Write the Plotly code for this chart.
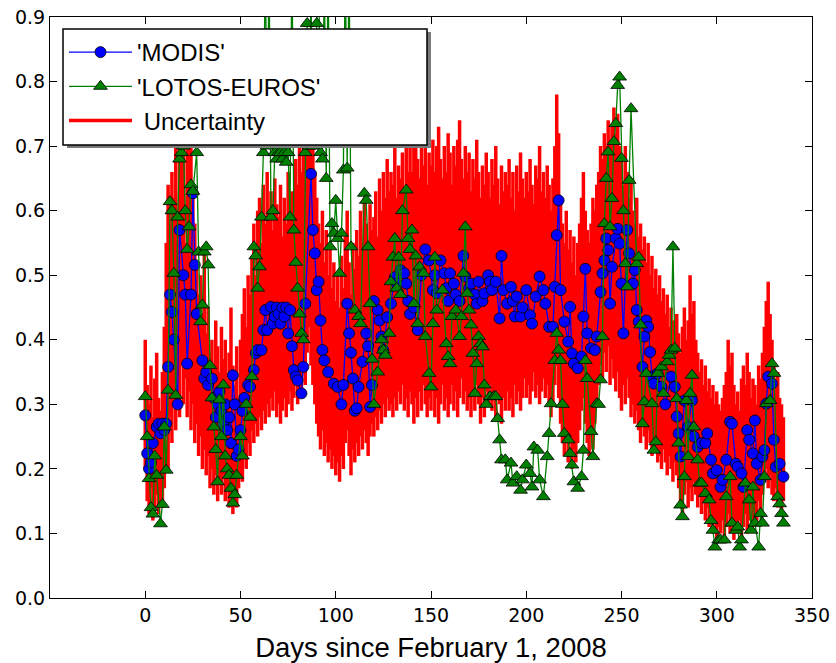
import plotly.graph_objects as go

# ---------------- data ----------------
modis_day = [0,1,2,3,4,6,7,8,9,10,11,12,13,14,15,17,18,20,21,22,24,25,26,27,30,31,32,33,35,36,37,38,39,40,41,42,43,44,45,46,47,48,49,50,
             51,52,54,55,57,58,59,61,62,63,64,66,67,68,69,70,71,72,73,74,75,76,77,78,79,80,82,83,84,
             87,88,89,90,91,92,93,94,96,99,101,103,104,106,107,108,109,110,111,112,114,116,117,118,119,120,122,123,124,125,127,129,
             131,132,134,136,137,138,139,141,143,145,147,149,151,152,153,155,157,158,159,160,162,163,165,167,168,170,171,173,174,175,
             177,178,180,181,182,184,186,187,188,190,192,193,194,195,197,198,200,202,203,205,207,209,210,212,214,215,216,217,218,
             220,222,223,224,225,227,229,230,231,232,234,236,237,239,240,241,242,243,244,245,247,248,249,250,251,253,254,256,257,
             258,259,261,262,263,264,265,266,267,269,271,273,276,278,279,280,281,283,285,287,288,290,292,294,295,297,298,300,302,
             303,305,307,308,310,311,313,314,316,317,319,320,321,323,324,325,326,327,329,330,331,333,335]
modis_val = [0.283,0.224,0.20,0.21,0.24,0.265,0.27,0.255,0.27,0.26,0.27,0.358,0.47,0.443,0.40,0.30,0.57,0.50,0.47,0.363,0.47,0.627,0.516,0.44,0.368,0.34,0.35,0.33,0.34,0.31,0.28,0.30,0.32,0.29,0.27,0.30,0.26,0.28,0.24,0.345,0.30,0.22,0.23,0.26,
             0.29,0.31,0.33,0.327,0.353,0.379,0.384,0.384,0.415,0.446,0.415,0.451,0.425,0.436,0.45,0.44,0.425,0.45,0.436,0.45,0.41,0.446,0.39,0.353,0.343,0.337,0.317,0.358,0.456,
             0.657,0.57,0.534,0.477,0.49,0.43,0.384,0.368,0.35,0.332,0.327,0.30,0.33,0.456,0.41,0.38,0.34,0.29,0.294,0.327,0.366,0.41,0.39,0.296,0.33,0.46,0.446,0.43,0.405,0.384,0.435,0.456,
             0.497,0.487,0.508,0.503,0.487,0.46,0.44,0.45,0.415,0.50,0.54,0.523,0.477,0.50,0.472,0.523,0.503,0.48,0.46,0.503,0.487,0.47,0.46,0.53,0.498,0.48,0.487,0.47,0.456,0.49,
             0.46,0.472,0.50,0.49,0.477,0.49,0.433,0.53,0.477,0.456,0.482,0.46,0.436,0.467,0.436,0.45,0.477,0.438,0.425,0.467,0.498,0.477,0.456,0.42,0.42,0.482,0.562,0.616,0.477,
             0.428,0.397,0.451,0.379,0.363,0.356,0.374,0.436,0.51,0.41,0.387,0.384,0.405,0.474,0.503,0.523,0.557,0.539,0.456,0.513,0.557,0.572,0.549,0.487,0.41,0.57,0.534,0.487,0.508,
             0.446,0.428,0.358,0.405,0.43,0.42,0.381,0.343,0.332,0.348,0.327,0.30,0.343,0.327,0.281,0.255,0.219,0.306,0.265,0.306,0.25,0.234,0.24,0.24,0.255,0.214,0.193,0.198,0.172,
             0.183,0.214,0.273,0.27,0.208,0.203,0.193,0.172,0.26,0.245,0.224,0.275,0.208,0.183,0.219,0.229,0.301,0.343,0.332,0.245,0.203,0.208,0.188]

lotos_day = [0,1,2,3,4,5,6,8,9,10,11,12,13,14,15,16,17,18,19,20,21,22,23,24,25,27,28,29,30,31,32,33,34,35,36,37,38,39,40,41,42,43,44,45,46,47,48,50,51,53,55,56,57,58,59,60,61,
             62,63,64,65,66,67,68,69,70,71,72,73,74,75,76,77,78,79,80,81,82,83,84,85,86,87,88,89,90,91,92,93,94,95,96,97,98,99,100,101,102,103,104,105,106,107,108,
             110,112,113,115,116,117,118,119,120,122,124,125,126,128,129,130,131,132,133,134,135,137,138,139,140,141,142,143,144,146,147,149,150,151,152,153,156,158,159,160,
             161,163,165,166,167,168,169,170,171,172,173,174,175,176,177,178,179,181,183,184,185,186,187,189,190,192,193,195,197,198,200,202,203,204,206,207,209,211,212,213,
             215,216,217,218,219,220,222,223,224,225,227,229,230,231,232,234,235,237,238,239,240,241,242,243,244,245,246,247,248,249,250,251,252,253,254,255,258,259,260,261,
             262,263,266,267,268,269,271,272,274,275,276,277,278,279,280,281,282,283,284,285,286,287,288,290,291,292,294,296,297,298,299,301,302,304,305,307,308,310,311,312,
             313,315,317,318,319,320,322,323,324,325,326,328,329,330,332,333,334,335]
lotos_val = [0.312,0.25,0.185,0.14,0.13,0.22,0.19,0.115,0.145,0.265,0.198,0.322,0.614,0.60,0.503,0.314,0.59,0.68,0.69,0.70,0.60,0.54,0.575,0.64,0.63,0.69,0.536,0.428,0.454,0.536,0.544,0.516,0.36,0.31,0.265,0.23,0.18,0.307,0.25,0.33,0.22,0.20,0.19,0.17,0.147,0.16,0.19,0.25,0.22,0.30,0.28,0.343,0.544,0.53,0.48,0.513,0.59,
             0.69,1.0,0.70,0.98,0.59,0.60,0.69,0.68,0.69,0.69,0.68,0.69,0.675,0.69,0.59,1.02,0.57,0.52,0.48,0.44,0.41,0.40,0.69,0.89,0.70,0.95,0.70,0.72,0.89,1.0,0.69,0.68,0.98,0.65,1.0,0.544,0.58,0.565,0.616,0.557,0.503,0.565,0.663,1.0,0.666,1.0,0.544,
             0.446,0.436,0.425,0.627,0.616,0.544,0.456,0.37,0.30,0.35,0.40,0.384,0.376,0.41,0.49,0.528,0.557,0.48,0.528,0.47,0.60,0.632,0.557,0.54,0.57,0.456,0.53,0.425,0.513,0.503,0.405,0.348,0.327,0.425,0.528,0.446,0.477,0.394,0.374,0.363,
             0.436,0.446,0.405,0.436,0.503,0.575,0.472,0.446,0.423,0.379,0.317,0.363,0.405,0.394,0.389,0.33,0.30,0.312,0.312,0.312,0.278,0.245,0.214,0.214,0.183,0.209,0.178,0.188,0.167,0.183,0.206,0.193,0.172,0.234,0.229,0.183,0.157,0.219,0.255,0.301,
             0.368,0.41,0.384,0.368,0.30,0.255,0.245,0.224,0.206,0.18,0.17,0.188,0.229,0.368,0.34,0.258,0.219,0.301,0.30,0.338,0.405,0.58,0.65,0.691,0.575,0.619,0.707,0.735,0.794,0.807,0.681,0.60,0.518,0.482,0.647,0.758,0.518,0.528,0.423,0.27,
             0.304,0.348,0.301,0.229,0.242,0.348,0.358,0.317,0.366,0.376,0.384,0.544,0.387,0.309,0.24,0.144,0.126,0.188,0.306,0.219,0.317,0.345,0.265,0.214,0.178,0.178,0.162,0.152,0.12,0.105,0.079,0.09,0.09,0.09,0.157,0.188,0.116,0.105,0.11,0.079,
             0.09,0.178,0.152,0.105,0.172,0.116,0.079,0.131,0.116,0.188,0.301,0.306,0.363,0.348,0.157,0.146,0.131,0.116]

unc_day = list(range(336))
unc_high = [0.40,0.33,0.30,0.36,0.28,0.34,0.38,0.31,0.29,0.35,
            0.42,0.55,0.64,0.58,0.66,0.62,0.71,0.60,0.74,0.68,
            0.72,0.55,0.74,0.70,0.78,0.62,0.58,0.52,0.47,0.50,
            0.44,0.54,0.41,0.45,0.38,0.40,0.36,0.43,0.39,0.35,
            0.42,0.37,0.40,0.34,0.38,0.45,0.36,0.33,0.39,0.31,
            0.40,0.44,0.48,0.42,0.50,0.47,0.53,0.58,0.50,0.60,
            0.62,0.55,0.64,0.58,0.66,0.60,0.63,0.57,0.65,0.61,
            0.59,0.64,0.56,0.62,0.58,0.66,0.60,0.63,0.57,0.68,
            0.64,0.70,0.66,0.72,0.69,0.75,0.80,0.74,0.70,0.66,
            0.62,0.58,0.55,0.60,0.52,0.57,0.50,0.54,0.48,0.52,
            0.46,0.50,0.45,0.53,0.48,0.56,0.60,0.52,0.47,0.55,
            0.51,0.57,0.53,0.60,0.55,0.62,0.58,0.54,0.61,0.57,
            0.59,0.63,0.56,0.65,0.60,0.66,0.62,0.68,0.63,0.66,
            0.64,0.70,0.62,0.67,0.65,0.69,0.63,0.71,0.66,0.72,
            0.66,0.70,0.75,0.68,0.65,0.72,0.67,0.70,0.64,0.69,
            0.67,0.71,0.66,0.70,0.73,0.68,0.65,0.70,0.66,0.72,
            0.69,0.64,0.70,0.67,0.71,0.74,0.68,0.65,0.70,0.66,
            0.69,0.63,0.68,0.65,0.71,0.66,0.62,0.67,0.64,0.69,
            0.66,0.62,0.68,0.64,0.70,0.65,0.61,0.67,0.63,0.66,
            0.64,0.68,0.62,0.66,0.60,0.67,0.63,0.69,0.65,0.62,
            0.66,0.63,0.68,0.64,0.61,0.67,0.65,0.70,0.63,0.66,
            0.62,0.67,0.64,0.60,0.65,0.70,0.78,0.72,0.62,0.58,
            0.55,0.60,0.54,0.57,0.52,0.56,0.50,0.55,0.58,0.62,
            0.66,0.60,0.57,0.55,0.58,0.62,0.60,0.64,0.66,0.70,
            0.68,0.72,0.70,0.74,0.71,0.73,0.76,0.72,0.75,0.70,
            0.68,0.64,0.70,0.66,0.62,0.65,0.60,0.58,0.62,0.56,
            0.58,0.54,0.56,0.52,0.55,0.50,0.53,0.48,0.51,0.47,
            0.50,0.46,0.48,0.44,0.47,0.42,0.45,0.43,0.40,0.44,
            0.41,0.38,0.42,0.45,0.40,0.43,0.50,0.44,0.46,0.40,
            0.38,0.35,0.37,0.33,0.36,0.32,0.34,0.31,0.33,0.30,
            0.32,0.30,0.29,0.31,0.33,0.35,0.40,0.36,0.38,0.33,
            0.30,0.32,0.29,0.34,0.36,0.33,0.38,0.35,0.31,0.34,
            0.33,0.30,0.36,0.34,0.38,0.42,0.46,0.49,0.44,0.40,
            0.36,0.33,0.35,0.31,0.30,0.28]
unc_low = [0.20,0.15,0.13,0.17,0.12,0.14,0.16,0.13,0.15,0.14,
           0.17,0.25,0.20,0.28,0.24,0.30,0.26,0.33,0.28,0.36,
           0.30,0.34,0.28,0.32,0.26,0.30,0.24,0.27,0.22,0.25,
           0.20,0.23,0.19,0.22,0.17,0.20,0.16,0.19,0.15,0.18,
           0.16,0.19,0.15,0.17,0.14,0.16,0.13,0.15,0.14,0.17,
           0.19,0.18,0.22,0.20,0.24,0.22,0.26,0.24,0.27,0.25,
           0.28,0.26,0.29,0.27,0.30,0.28,0.31,0.29,0.32,0.28,
           0.30,0.27,0.29,0.31,0.28,0.30,0.32,0.29,0.31,0.33,
           0.30,0.34,0.31,0.36,0.33,0.38,0.42,0.36,0.33,0.30,
           0.27,0.25,0.23,0.26,0.22,0.24,0.21,0.23,0.20,0.22,
           0.19,0.21,0.18,0.22,0.20,0.24,0.26,0.22,0.19,0.23,
           0.21,0.24,0.22,0.25,0.23,0.26,0.24,0.22,0.25,0.27,
           0.25,0.28,0.26,0.29,0.27,0.30,0.28,0.31,0.29,0.30,
           0.28,0.31,0.29,0.32,0.30,0.33,0.29,0.31,0.28,0.32,
           0.30,0.27,0.31,0.28,0.32,0.29,0.33,0.30,0.28,0.31,
           0.29,0.32,0.28,0.31,0.27,0.30,0.33,0.29,0.31,0.28,
           0.30,0.33,0.29,0.32,0.28,0.31,0.34,0.30,0.32,0.29,
           0.31,0.28,0.32,0.29,0.33,0.30,0.27,0.31,0.28,0.32,
           0.30,0.33,0.29,0.31,0.28,0.32,0.30,0.27,0.31,0.29,
           0.32,0.29,0.31,0.28,0.33,0.30,0.32,0.29,0.31,0.34,
           0.31,0.33,0.30,0.32,0.35,0.31,0.33,0.30,0.32,0.34,
           0.31,0.33,0.30,0.28,0.30,0.33,0.36,0.31,0.27,0.24,
           0.22,0.25,0.21,0.24,0.20,0.23,0.21,0.24,0.26,0.29,
           0.31,0.27,0.24,0.22,0.25,0.23,0.27,0.30,0.33,0.36,
           0.34,0.38,0.35,0.39,0.33,0.37,0.34,0.32,0.35,0.31,
           0.29,0.33,0.30,0.34,0.31,0.28,0.30,0.27,0.29,0.26,
           0.24,0.27,0.25,0.23,0.26,0.24,0.22,0.25,0.23,0.21,
           0.22,0.20,0.23,0.21,0.19,0.22,0.20,0.18,0.21,0.19,
           0.17,0.15,0.13,0.16,0.18,0.14,0.17,0.15,0.18,0.16,
           0.14,0.16,0.13,0.15,0.12,0.14,0.11,0.13,0.10,0.12,
           0.09,0.11,0.10,0.12,0.09,0.11,0.13,0.10,0.12,0.09,
           0.11,0.10,0.12,0.09,0.11,0.13,0.10,0.12,0.14,0.11,
           0.13,0.12,0.15,0.13,0.16,0.18,0.20,0.17,0.19,0.16,
           0.15,0.17,0.14,0.16,0.13,0.15]

x_ticks = [0, 50, 100, 150, 200, 250, 300, 350]
y_ticks = [0.0, 0.1, 0.2, 0.3, 0.4, 0.5, 0.6, 0.7, 0.8, 0.9]
x_title = "Days since February 1, 2008"

# ---------------- build ----------------
ux, uy = [], []
for d, lo, hi in zip(unc_day, unc_low, unc_high):
    ux += [d, d, None]
    uy += [lo, hi, None]

fig = go.Figure()
fig.add_trace(go.Scatter(x=ux, y=uy, mode="lines", name="\u00a0Uncertainty",
                         line=dict(color="#ff0000", width=3.5), legendrank=3,
                         legendgroup="c", connectgaps=False))
fig.add_trace(go.Scatter(x=modis_day, y=modis_val, mode="lines+markers", name="'MODIS'",
                         line=dict(color="#0000ff", width=1.3),
                         marker=dict(symbol="circle", size=11, color="#0000ff",
                                     line=dict(color="black", width=0.8)),
                         legendrank=1, legendgroup="a"))
fig.add_trace(go.Scatter(x=lotos_day, y=lotos_val, mode="lines+markers", name="'LOTOS-EUROS'",
                         line=dict(color="#008000", width=1.3),
                         marker=dict(symbol="triangle-up", size=12, color="#008000",
                                     line=dict(color="black", width=0.8)),
                         legendrank=2, legendgroup="b"))

axis_common = dict(showline=True, linecolor="black", linewidth=1.2, mirror="ticks",
                   ticks="inside", ticklen=7, tickwidth=1, tickcolor="black",
                   showgrid=False, zeroline=False, automargin=False,
                   tickfont=dict(family="DejaVu Sans", size=19, color="black"))

# legend frame (with drop shadow), in paper coordinates
L, R, T, B = 63, 427, 29, 145          # pixel box of the legend frame
W, H, ML, MT = 836, 663, 50, 17
PW, PH = 762, 581
def px(xp): return (xp - ML) / PW
def py(yp): return (MT + PH - yp) / PH

shapes = [
    dict(type="rect", xref="paper", yref="paper", layer="above",
         x0=px(L + 4), x1=px(R + 4), y0=py(B + 3), y1=py(T + 3),
         fillcolor="#7a7a7a", line=dict(width=0)),
    dict(type="rect", xref="paper", yref="paper", layer="above",
         x0=px(L), x1=px(R), y0=py(B), y1=py(T),
         fillcolor="white", line=dict(color="black", width=1.5)),
]

fig.update_layout(
    width=W, height=H,
    margin=dict(l=ML, r=W - ML - PW, t=MT, b=H - MT - PH, autoexpand=False),
    paper_bgcolor="white", plot_bgcolor="white",
    showlegend=True,
    shapes=shapes,
    legend=dict(x=px(L + 1), y=py(T + 1), xanchor="left", yanchor="top",
                bgcolor="rgba(0,0,0,0)", borderwidth=0,
                font=dict(family="Liberation Sans", size=24, color="black"),
                tracegroupgap=0, itemwidth=63),
    xaxis=dict(range=[-50, 350], tickvals=x_ticks, ticktext=[str(v) for v in x_ticks],
               title=dict(text=x_title, standoff=15,
                          font=dict(family="Liberation Sans", size=27.5, color="black")),
               **axis_common),
    yaxis=dict(range=[0, 0.9], tickvals=y_ticks, ticktext=[f"{v:.1f}" for v in y_ticks],
               **axis_common),
)

fig.write_html("out.html")
